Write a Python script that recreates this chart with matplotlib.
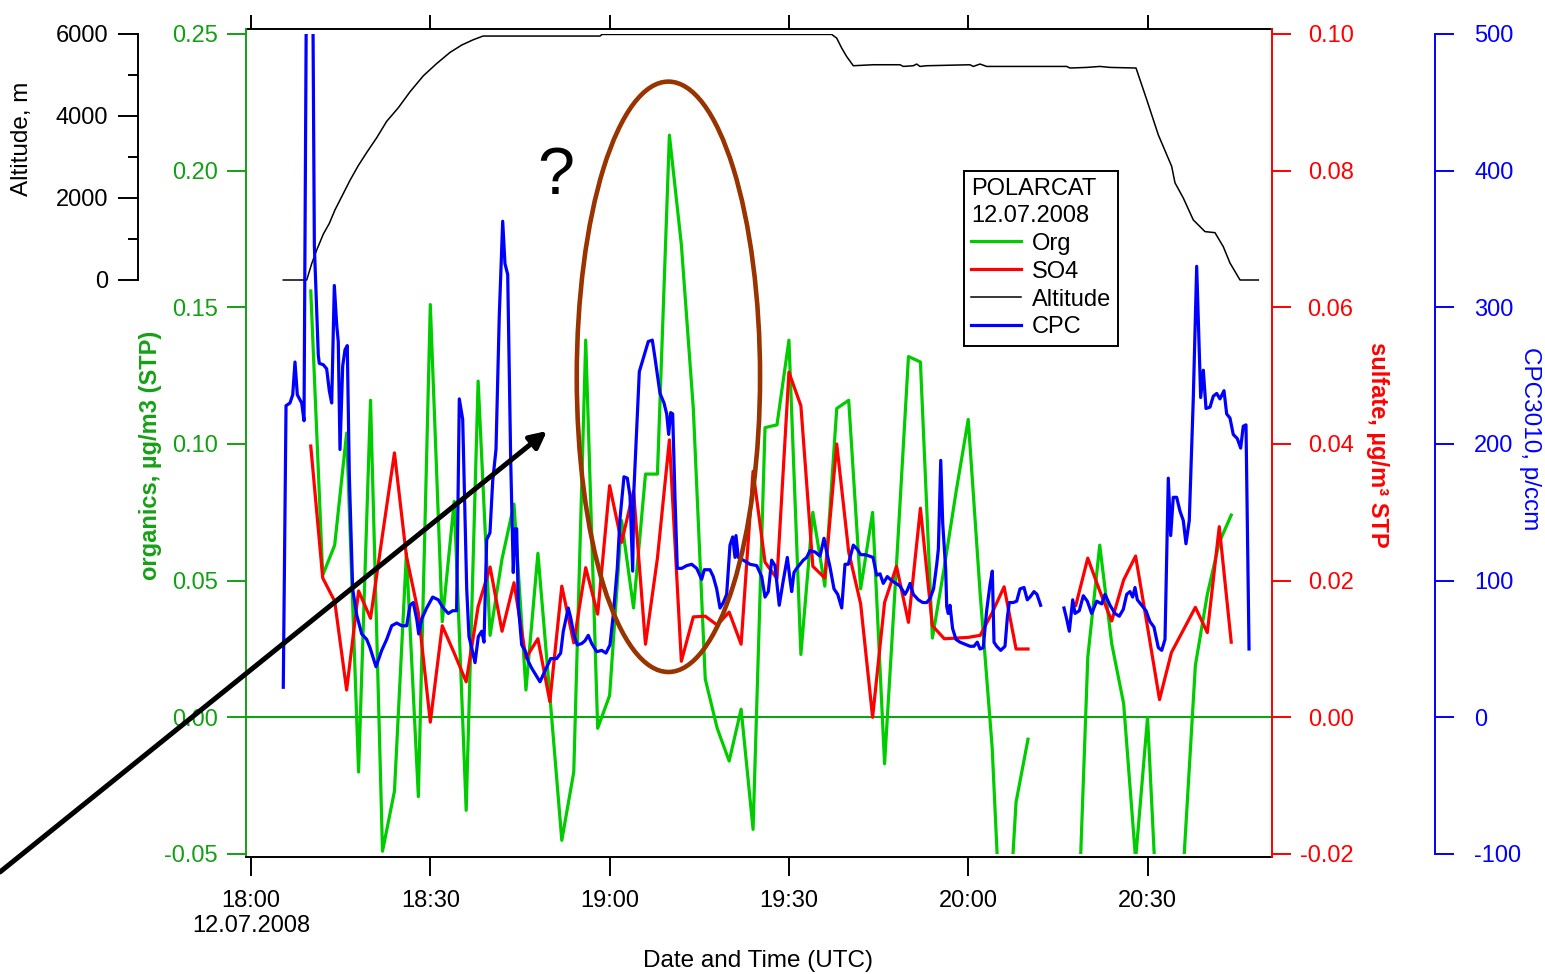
import matplotlib
matplotlib.use("Agg")
import matplotlib.pyplot as plt
from matplotlib.patches import Ellipse, FancyArrowPatch
from matplotlib.ticker import FixedLocator, FormatStrFormatter

plt.rcParams['font.family'] = ['Liberation Sans', 'DejaVu Sans']
plt.rcParams['axes.unicode_minus'] = False

NAN = float('nan')

# ---------------- data (time in minutes after 18:00 UTC, 12.07.2008) ----------------
org_time = [10, 12, 14, 16, 18, 20, 22, 24, 26, 28,
            30, 32, 34, 36, 38, 40, 42, 44, 46, 48,
            50, 52, 54, 56, 58, 60, 62, 64, 66, 68,
            70, 72, 74, 76, 78, 80, 82, 84, 86, 88,
            90, 92, 94, 96, 98, 100, 102, 104, 106, 108,
            110, 112, 114, 116, 118, 120, 122, 124, 126, 128,
            130, 134, 138, 140, 142, 144, 146, 148, 150, 152,
            154, 156, 158, 160, 162, 164]
org_vals = [0.156, 0.052, 0.063, 0.104, -0.020, 0.116, -0.049, -0.027, 0.060, -0.029,
            0.151, 0.035, 0.079, -0.034, 0.123, 0.030, 0.058, 0.078, 0.010, 0.060,
            0.008, -0.045, -0.020, 0.138, -0.004, 0.008, 0.072, 0.040, 0.089, 0.089,
            0.213, 0.173, 0.113, 0.014, -0.004, -0.016, 0.003, -0.041, 0.106, 0.107,
            0.138, 0.023, 0.075, 0.048, 0.113, 0.116, 0.047, 0.075, -0.017, 0.056,
            0.132, 0.130, 0.029, 0.055, 0.083, 0.109, 0.045, -0.011, -0.105, -0.031,
            -0.008, NAN, -0.100, 0.022, 0.063, 0.027, 0.005, -0.052, 0.000, -0.090,
            -0.120, -0.055, 0.019, 0.045, 0.064, 0.074]

so4_time = org_time
so4_vals = [0.0397, 0.0204, 0.0170, 0.0040, 0.0185, 0.0145, 0.0267, 0.0387, 0.0236, 0.0153,
            -0.0007, 0.0134, 0.0094, 0.0052, 0.0162, 0.0220, 0.0126, 0.0197, 0.0087, 0.0115,
            0.0023, 0.0192, 0.0109, 0.0219, 0.0151, 0.0339, 0.0256, 0.0331, 0.0107, 0.0233,
            0.0406, 0.0082, 0.0147, 0.0148, 0.0135, 0.0154, 0.0107, 0.0360, 0.0227, 0.0203,
            0.0505, 0.0456, 0.0221, 0.0204, 0.0400, 0.0242, 0.0166, 0.0000, 0.0168, 0.0221,
            0.0139, 0.0306, 0.0134, 0.0115, 0.0116, 0.0117, 0.0120, 0.0153, 0.0191, 0.0100,
            0.0100, NAN, 0.0164, 0.0233, 0.0185, 0.0141, 0.0201, 0.0236, 0.0132, 0.0026,
            0.0095, 0.0128, 0.0161, 0.0124, 0.0279, 0.0110]

cpc_time = [5.40, 5.86, 6.52, 6.98, 7.36, 7.75, 8.48, 8.87, 9.30, 10.30,
            10.60, 11.26, 11.43, 12.10, 12.66, 13.10, 13.50, 13.94, 14.34, 14.60,
            14.89, 15.34, 15.73, 16.11, 16.45, 17.01, 17.68, 18.52, 19.36, 19.91,
            20.91, 21.87, 22.70, 23.54, 24.38, 25.21, 26.05, 26.60, 27.15, 27.72,
            28.06, 28.56, 29.39, 30.40, 31.33, 32.17, 33.01, 33.74, 34.40, 34.85,
            35.42, 36.09, 36.47, 36.92, 37.48, 38.03, 38.60, 38.98, 39.43, 39.98,
            40.44, 40.99, 41.54, 42.11, 42.49, 42.95, 43.45, 43.88, 44.17, 44.45,
            44.72, 45.29, 45.84, 46.39, 46.96, 47.51, 48.35, 49.19, 50.14, 51.14,
            51.81, 52.25, 53.08, 53.48, 54.04, 54.59, 55.33, 55.88, 56.43, 57.00,
            57.84, 58.67, 59.39, 60.06, 60.61, 61.28, 61.73, 62.40, 62.96, 63.41,
            63.86, 64.05, 64.97, 65.92, 66.47, 67.14, 67.59, 67.98, 68.43, 69.10,
            69.55, 69.88, 70.22, 70.55, 70.94, 71.32, 72.06, 72.89, 73.73, 74.57,
            75.40, 75.84, 76.79, 77.34, 77.91, 78.47, 79.02, 79.58, 80.14, 80.59,
            80.98, 81.14, 81.53, 82.36, 83.48, 84.61, 85.44, 86.00, 86.55, 87.11,
            87.67, 88.38, 89.05, 89.73, 90.18, 90.46, 90.85, 91.30, 91.85, 92.40,
            92.97, 93.52, 94.36, 95.20, 95.87, 96.32, 96.87, 97.54, 98.16, 98.83,
            99.38, 99.93, 100.77, 101.44, 102.00, 102.73, 103.45, 104.07, 104.68, 105.24,
            105.79, 106.46, 107.19, 107.92, 108.59, 109.42, 109.81, 110.26, 110.81, 111.65,
            112.39, 113.06, 113.61, 114.20, 114.73, 115.00, 115.40, 115.73, 116.23, 116.40,
            116.66, 116.95, 117.38, 117.95, 118.62, 119.17, 119.74, 120.29, 120.96, 121.51,
            121.97, 122.51, 123.08, 123.64, 124.03, 124.31, 124.76, 125.43, 126.15, 126.54,
            126.87, 127.54, 128.11, 128.66, 129.33, 129.88, 130.33, 131.00, 131.50, 132.11,
            134.00, 136.02, 136.47, 136.91, 137.48, 137.86, 138.58, 139.25, 139.92, 140.65,
            141.49, 142.33, 142.88, 143.72, 144.55, 145.27, 145.94, 146.51, 147.06, 147.51,
            147.90, 148.29, 149.02, 149.74, 150.41, 151.08, 151.80, 152.37, 152.92, 153.47,
            153.87, 154.30, 154.87, 155.42, 155.98, 156.43, 156.98, 157.65, 158.22, 158.89,
            159.33, 159.78, 160.45, 161.00, 161.57, 162.12, 162.79, 163.24, 163.79, 164.34,
            165.01, 165.58, 166.01, 166.47, 166.98]
cpc_vals = [22, 228, 230, 236, 260, 236, 230, 217, 560, 560,
            345, 265, 259, 258, 255, 239, 230, 316, 287, 275,
            196, 257, 269, 272, 177, 94, 75, 61, 57, 51,
            37, 49, 57, 67, 69, 67, 67, 82, 84, 72,
            61, 72, 80, 88, 86, 80, 76, 78, 78, 233,
            218, 94, 59, 51, 40, 59, 63, 55, 130, 135,
            173, 196, 294, 363, 332, 324, 188, 106, 138, 138,
            82, 53, 49, 41, 36, 32, 26, 34, 43, 43,
            47, 63, 80, 73, 60, 53, 54, 56, 60, 54,
            48, 49, 47, 53, 75, 109, 145, 176, 175, 162,
            107, 165, 253, 267, 275, 276, 263, 251, 237, 230,
            222, 207, 223, 222, 160, 109, 109, 111, 112, 109,
            101, 108, 108, 103, 94, 80, 84, 90, 126, 132,
            117, 133, 117, 115, 112, 111, 103, 88, 92, 115,
            111, 82, 100, 117, 101, 92, 106, 109, 112, 115,
            117, 122, 121, 118, 131, 121, 110, 94, 90, 80,
            112, 112, 126, 123, 119, 119, 118, 117, 104, 105,
            98, 103, 100, 98, 96, 90, 93, 98, 90, 86,
            84, 84, 87, 94, 112, 123, 188, 142, 108, 81,
            76, 82, 65, 57, 55, 54, 53, 52, 52, 55,
            50, 51, 78, 97, 107, 55, 52, 49, 52, 73,
            84, 84, 85, 94, 95, 86, 88, 92, 90, 82,
            NAN, 80, 72, 63, 86, 76, 78, 89, 85, 76,
            85, 83, 90, 82, 76, 74, 79, 90, 92, 88,
            95, 86, 82, 78, 70, 66, 51, 49, 57, 175,
            133, 161, 161, 151, 144, 127, 144, 233, 330, 234,
            254, 226, 227, 235, 237, 233, 239, 222, 219, 207,
            204, 197, 213, 214, 50]

alt_time = [5.40, 9.32, 10.16, 10.99, 12.10, 13.10, 14.05, 15.17, 16.56, 17.95,
            19.36, 21.03, 22.70, 24.64, 26.60, 28.83, 31.07, 33.29, 35.25, 37.19,
            38.82, 58.39, 58.73, 97.15, 97.99, 98.82, 99.66, 100.77, 104.11, 108.58,
            109.13, 110.81, 111.37, 111.93, 113.05, 120.29, 120.84, 121.97, 123.09, 136.47,
            137.03, 139.82, 142.04, 143.72, 148.07, 149.86, 151.80, 154.04, 154.59, 155.98,
            157.65, 158.10, 159.61, 161.28, 162.67, 163.79, 165.47, 168.53]
alt_vals = [0, 0, 400, 730, 1120, 1380, 1710, 2030, 2430, 2790,
            3110, 3470, 3870, 4200, 4590, 4980, 5280, 5550, 5730, 5860,
            5950, 5950, 5990, 5990, 5900, 5660, 5450, 5226, 5250, 5250,
            5209, 5226, 5267, 5209, 5226, 5250, 5209, 5267, 5209, 5209,
            5170, 5185, 5209, 5185, 5170, 4400, 3540, 2770, 2370, 2000,
            1465, 1400, 1180, 1155, 813, 415, 0, 0]

time_ticks = [0, 30, 60, 90, 120, 150]
time_labels = ['18:00\n12.07.2008', '18:30', '19:00', '19:30', '20:00', '20:30']
org_ticks = [-0.05, 0.00, 0.05, 0.10, 0.15, 0.20, 0.25]
so4_ticks = [-0.02, 0.00, 0.02, 0.04, 0.06, 0.08, 0.10]
cpc_ticks = [-100, 0, 100, 200, 300, 400, 500]
alt_ticks = [0, 2000, 4000, 6000]
alt_minor = [1000, 3000, 5000]

# ---------------- styling ----------------
GREEN_LINE = '#00CC00'
GREEN_AX = '#14A014'
RED = '#FF0000'
BLUE = '#0000FF'
BROWN = '#993300'
FS = 17
LW_AX = 1.4
TL = 13.7

W, H = 1545, 974
def fx(px):
    return px / W
def fy(py):
    return 1 - py / H

fig = plt.figure(figsize=(W / 100, H / 100), dpi=100)
ax = fig.add_axes([fx(246), fy(854), (1272 - 246) / W, (854 - 34) / H])
ax_red = ax.twinx()
ax_alt = ax.twinx()
ax_blue = ax.twinx()

ax.set_xlim(-5 / 5.977, 1026 / 5.977 - 5 / 5.977)

# --- organics (main axis) ---
ax.axhline(0, color=GREEN_AX, lw=1.5, zorder=1)
l_org, = ax.plot(org_time, org_vals, color=GREEN_LINE, lw=2.3, zorder=2)
ax.set_ylim(-0.05, 0.25)
ax.yaxis.set_major_locator(FixedLocator(org_ticks))
ax.yaxis.set_major_formatter(FormatStrFormatter('%.2f'))
ax.tick_params(axis='y', which='major', direction='out', length=TL, width=LW_AX,
               colors=GREEN_AX, labelsize=FS, pad=6.5, right=False)
ax.spines['left'].set_color(GREEN_AX)
ax.spines['left'].set_linewidth(LW_AX)
ax.spines['left'].set_bounds(-0.05 - 3 / 2733.3, 0.25 + 5 / 2733.3)
ax.spines['right'].set_visible(False)
ax.spines['top'].set_visible(False)
ax.spines['bottom'].set_linewidth(LW_AX)
ax.spines['bottom'].set_position(('outward', 2.2))
ax.set_xticks(time_ticks)
ax.set_xticklabels(time_labels)
ax.tick_params(axis='x', direction='out', length=TL, width=LW_AX, labelsize=FS, pad=10)
ax.set_ylabel('organics, µg/m3 (STP)', color=GREEN_AX, fontweight='bold', fontsize=17,
              rotation=90, ha='center', va='center')
ax.yaxis.set_label_coords(fx(150), fy(455), transform=fig.transFigure)
ax.set_xlabel('Date and Time (UTC)', fontsize=17.5, ha='center', va='center')
ax.xaxis.set_label_coords(fx(758), fy(961), transform=fig.transFigure)

sec = ax.secondary_xaxis(1 + 5 / 820)
sec.set_xticks(time_ticks)
sec.tick_params(axis='x', direction='out', length=10, width=LW_AX, labeltop=False)
sec.spines['top'].set_linewidth(LW_AX)

# --- sulfate ---
l_so4, = ax_red.plot(so4_time, so4_vals, color=RED, lw=2.3)
ax_red.set_ylim(-0.02, 0.10)
ax_red.yaxis.set_major_locator(FixedLocator(so4_ticks))
ax_red.yaxis.set_major_formatter(FormatStrFormatter('%.2f'))
ax_red.tick_params(axis='y', direction='out', length=TL, width=LW_AX, colors=RED,
                   labelsize=FS, pad=45)
for lbl in ax_red.get_yticklabels():
    lbl.set_horizontalalignment('right')
for s in ['top', 'bottom', 'left']:
    ax_red.spines[s].set_visible(False)
ax_red.spines['right'].set_color(RED)
ax_red.spines['right'].set_linewidth(LW_AX)
ax_red.spines['right'].set_bounds(-0.02 - 3 / 6833.3, 0.10 + 5 / 6833.3)
ax_red.set_ylabel('sulfate, µg/m³ STP', color=RED, fontweight='bold', fontsize=17,
                  rotation=270, ha='center', va='center')
ax_red.yaxis.set_label_coords(fx(1377), fy(445), transform=fig.transFigure)

# --- altitude ---
l_alt, = ax_alt.plot(alt_time, alt_vals, color='black', lw=1.1)
ax_alt.set_ylim(-14000, 6000)
ax_alt.yaxis.tick_left()
ax_alt.yaxis.set_label_position('left')
ax_alt.yaxis.set_major_locator(FixedLocator(alt_ticks))
ax_alt.yaxis.set_minor_locator(FixedLocator(alt_minor))
ax_alt.tick_params(axis='y', which='major', direction='out', length=14.4, width=LW_AX,
                   labelsize=FS, pad=7, colors='black')
ax_alt.tick_params(axis='y', which='minor', direction='out', length=7.2, width=LW_AX,
                   colors='black')
for s in ['top', 'bottom', 'right']:
    ax_alt.spines[s].set_visible(False)
ax_alt.spines['left'].set_visible(True)
ax_alt.spines['left'].set_position(('axes', (138 - 246) / 1026))
ax_alt.spines['left'].set_bounds(0, 6000)
ax_alt.spines['left'].set_linewidth(LW_AX)
ax_alt.set_ylabel('Altitude, m', fontsize=17.5, rotation=90, ha='center', va='center')
ax_alt.yaxis.set_label_coords(fx(22), fy(139), transform=fig.transFigure)

# --- CPC ---
l_cpc, = ax_blue.plot(cpc_time, cpc_vals, color=BLUE, lw=2.3)
ax_blue.set_ylim(-100, 500)
ax_blue.yaxis.set_major_locator(FixedLocator(cpc_ticks))
ax_blue.tick_params(axis='y', direction='out', length=TL, width=LW_AX, colors=BLUE,
                    labelsize=FS, pad=14.4)
for s in ['top', 'bottom', 'left']:
    ax_blue.spines[s].set_visible(False)
ax_blue.spines['right'].set_position(('axes', (1435 - 246) / 1026))
ax_blue.spines['right'].set_bounds(-100, 500)
ax_blue.spines['right'].set_color(BLUE)
ax_blue.spines['right'].set_linewidth(LW_AX)
ax_blue.set_ylabel('CPC3010, p/ccm', color=BLUE, fontsize=17.5, rotation=270,
                   ha='center', va='center')
ax_blue.yaxis.set_label_coords(fx(1530), fy(439), transform=fig.transFigure)

# --- legend ---
leg = ax_blue.legend([l_org, l_so4, l_alt, l_cpc], ['Org', 'SO4', 'Altitude', 'CPC'],
                     title='POLARCAT\n12.07.2008', loc='upper left',
                     bbox_to_anchor=(fx(964.3), fy(171)), bbox_transform=fig.transFigure,
                     frameon=True, fancybox=False, edgecolor='black', facecolor='white',
                     framealpha=1, fontsize=FS, title_fontsize=FS, alignment='left',
                     borderaxespad=0, borderpad=0.3, labelspacing=0.25,
                     handlelength=2.1, handletextpad=0.45)
leg.get_title().set_linespacing(1.28)
leg.get_frame().set_linewidth(1.4)

# --- annotations ---
fig.add_artist(Ellipse((fx(668.4), fy(376.8)), width=183.3 / W, height=590.4 / H,
                       transform=fig.transFigure, fill=False, edgecolor=BROWN, lw=3.3))
fig.add_artist(FancyArrowPatch((0, fy(872)), (fx(547), fy(431)),
                               transform=fig.transFigure, arrowstyle='-|>',
                               mutation_scale=25, lw=3.6, color='black',
                               shrinkA=0, shrinkB=0))
fig.text(fx(556), fy(194), '?', fontsize=48, ha='center', va='baseline')

fig.savefig('out.png', dpi=100)
